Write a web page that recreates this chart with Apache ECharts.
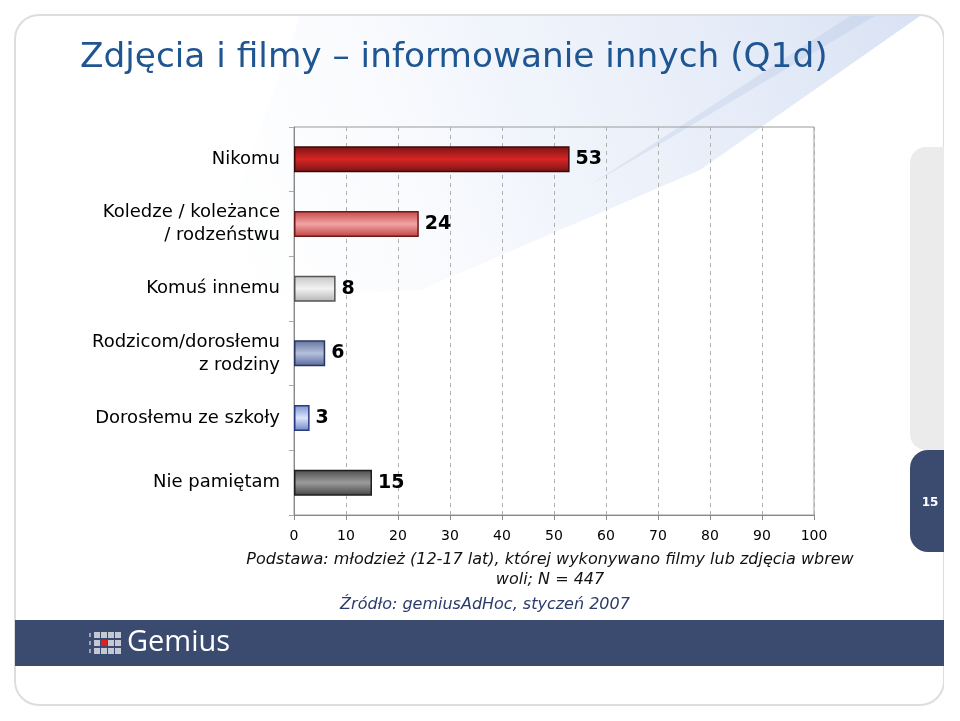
<!DOCTYPE html>
<html>
<head>
<meta charset="utf-8">
<script src="https://cdn.jsdelivr.net/npm/echarts@6/dist/echarts.min.js"></script>
<style>
html,body{margin:0;padding:0;background:#fff;}
#chart{width:960px;height:721px;}
</style>
</head>
<body>
<div id="chart"></div>
<script>
var categories = ['Nikomu', 'Koledze / koleżance\n/ rodzeństwu', 'Komuś innemu', 'Rodzicom/dorosłemu\nz rodziny', 'Dorosłemu ze szkoły', 'Nie pamiętam'];
var values = [53, 24, 8, 6, 3, 15];
var axisTicks = [0, 100, 10];
var titleText = 'Zdjęcia i filmy – informowanie innych (Q1d)';
var noteLine1 = 'Podstawa: młodzież (12-17 lat), której wykonywano filmy lub zdjęcia wbrew';
var noteLine2 = 'woli; N = 447';
var sourceText = 'Źródło: gemiusAdHoc, styczeń 2007';
var pageNumber = '15';

var barStyles = [
  ['#7a1515', '#d82424', '#731414', '#3a0a0a'],
  ['#c44646', '#f2a4a4', '#be4040', '#6a1a1a'],
  ['#c4c4c4', '#f2f2f2', '#b4b4b4', '#555555'],
  ['#64749f', '#b4c0dc', '#56669a', '#2a3560'],
  ['#7890d0', '#dce5f9', '#6a84c8', '#2a3a80'],
  ['#4c4c4c', '#9c9c9c', '#444444', '#1e1e1e']
];

var chart = echarts.init(document.getElementById('chart'), null, {renderer: 'canvas'});

var dataItems = values.map(function (v, i) {
  var s = barStyles[i];
  return {
    value: v,
    itemStyle: {
      color: new echarts.graphic.LinearGradient(0, 0, 0, 1, [
        {offset: 0, color: s[0]},
        {offset: 0.5, color: s[1]},
        {offset: 1, color: s[2]}
      ]),
      borderColor: s[3],
      borderWidth: 1.5
    }
  };
});

var logoCells = [];
for (var c = 0; c < 4; c++) {
  for (var r = 0; r < 3; r++) {
    logoCells.push({
      type: 'rect', silent: true,
      shape: {x: 94 + c * 7, y: 632 + r * 8, width: 6, height: 6},
      style: {fill: (c === 1 && r === 1) ? '#e02020' : '#c4c8d2'}
    });
  }
}
for (var r2 = 0; r2 < 3; r2++) {
  logoCells.push({
    type: 'rect', silent: true,
    shape: {x: 89, y: 633 + r2 * 8, width: 2, height: 4},
    style: {fill: '#9aa2b6'}
  });
}

var option = {
  backgroundColor: '#ffffff',
  animation: false,
  grid: {left: 294, right: 146, top: 127, bottom: 206, show: true, borderColor: '#9a9a9a', borderWidth: 1},
  xAxis: {
    type: 'value',
    min: axisTicks[0], max: axisTicks[1], interval: axisTicks[2],
    axisLine: {show: true, lineStyle: {color: '#888'}},
    axisTick: {show: true, length: 5, lineStyle: {color: '#888'}},
    splitLine: {show: true, lineStyle: {color: '#b0b0b0', type: [4, 4], width: 1}},
    axisLabel: {color: '#000', fontSize: 14, fontFamily: 'DejaVu Sans', margin: 14}
  },
  yAxis: {
    type: 'category',
    inverse: true,
    data: categories,
    axisLine: {show: true, lineStyle: {color: '#888'}},
    axisTick: {show: true, length: 5, lineStyle: {color: '#aaa'}},
    axisLabel: {color: '#000', fontSize: 18, fontFamily: 'DejaVu Sans', margin: 14, align: 'right', lineHeight: 23}
  },
  series: [{
    type: 'bar',
    data: dataItems,
    barWidth: 26,
    label: {show: true, position: 'right', distance: 6, color: '#000', fontSize: 19, fontWeight: 'bold', fontFamily: 'DejaVu Sans'}
  }],
  graphic: [
    {
      type: 'polygon', silent: true, z: -10,
      shape: {points: [[300, 16], [920, 16], [700, 170], [420, 290], [200, 300]]},
      style: {fill: new echarts.graphic.LinearGradient(1, 0, 0, 1, [
        {offset: 0, color: 'rgba(170,190,230,0.45)'},
        {offset: 0.5, color: 'rgba(205,218,242,0.3)'},
        {offset: 1, color: 'rgba(245,248,253,0.0)'}
      ])}
    },
    {
      type: 'polygon', silent: true, z: -9,
      shape: {points: [[850, 16], [875, 16], [650, 150], [590, 185]]},
      style: {fill: 'rgba(160,180,220,0.22)'}
    },
    {
      type: 'rect', silent: true, z: -5,
      shape: {x: 15, y: 15, width: 929, height: 690, r: 24},
      style: {fill: 'none', stroke: '#dddddd', lineWidth: 2}
    },
    {
      type: 'rect', silent: true,
      shape: {x: 15, y: 620, width: 929, height: 46},
      style: {fill: '#3b4b70'}
    },
    {
      type: 'rect', silent: true,
      shape: {x: 910, y: 147, width: 40, height: 303, r: [16, 0, 0, 16]},
      style: {fill: '#ebebeb'}
    },
    {
      type: 'rect', silent: true,
      shape: {x: 910, y: 450, width: 40, height: 102, r: [18, 0, 0, 18]},
      style: {fill: '#3b4b70'}
    },
    {
      type: 'rect', silent: true,
      shape: {x: 944, y: 0, width: 16, height: 721},
      style: {fill: '#ffffff'}
    },
    {
      type: 'text', silent: true,
      style: {text: pageNumber, x: 930, y: 503, align: 'center', verticalAlign: 'middle', fill: '#fff', font: 'bold 12px "DejaVu Sans"'}
    },
    {
      type: 'text', silent: true,
      x: 80, y: 58, scaleX: 1.04,
      style: {text: titleText, x: 0, y: 0, align: 'left', verticalAlign: 'middle', fill: '#1f5692', font: '33px "DejaVu Sans"'}
    },
    {
      type: 'text', silent: true,
      style: {text: noteLine1, x: 550, y: 560, align: 'center', verticalAlign: 'middle', fill: '#111', font: 'italic 16px "DejaVu Sans"'}
    },
    {
      type: 'text', silent: true,
      style: {text: noteLine2, x: 550, y: 580, align: 'center', verticalAlign: 'middle', fill: '#111', font: 'italic 16px "DejaVu Sans"'}
    },
    {
      type: 'text', silent: true,
      style: {text: sourceText, x: 485, y: 605, align: 'center', verticalAlign: 'middle', fill: '#2b3b6b', font: 'italic 16px "DejaVu Sans"'}
    },
    {
      type: 'text', silent: true,
      style: {text: 'Gemius', x: 127, y: 643, align: 'left', verticalAlign: 'middle', fill: '#fff', font: '29px "Open Sans"'}
    }
  ].concat(logoCells)
};
chart.setOption(option);
</script>
</body>
</html>
